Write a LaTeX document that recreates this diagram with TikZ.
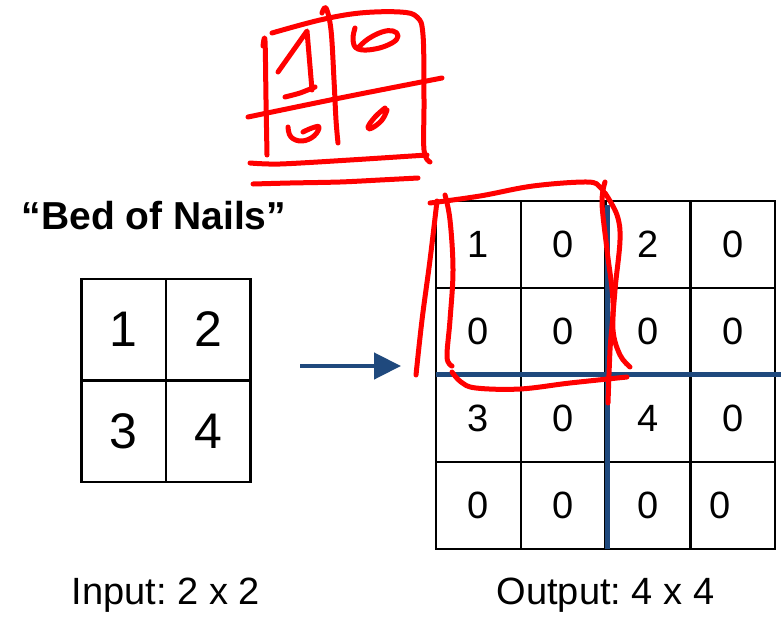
\documentclass[tikz,border=0pt]{standalone}
\usepackage{fontspec}
\setmainfont{Liberation Sans}
\usetikzlibrary{arrows.meta}
\frenchspacing
\definecolor{navy}{HTML}{1F497D}
\definecolor{ink}{HTML}{FF0000}
\begin{document}
\begin{tikzpicture}[x=1pt,y=-1pt,
  cellL/.style={draw=black,line width=2.5pt,minimum width=84.5pt,minimum height=101.5pt,inner sep=0pt,
    font=\fontsize{50}{58}\selectfont},
  cellR/.style={draw=black,line width=2.5pt,minimum width=84.75pt,minimum height=87pt,inner sep=0pt,
    font=\fontsize{38}{44}\selectfont},
  caption/.style={anchor=base,inner sep=0pt,font=\fontsize{38}{44}\selectfont},
  splitline/.style={draw=navy,line width=5pt},
  pointer/.style={draw=navy,line width=4.5pt,-{Triangle[length=27pt,width=26pt]}},
  pen/.style={draw=ink,line width=5pt,line cap=round,line join=round}]
\useasboundingbox (0,0) rectangle (783,618);

% title
\node[anchor=base,inner sep=0pt,font=\fontsize{39}{46}\selectfont\bfseries] (title) at (154,229) {“Bed of Nails”};

% 2 x 2 input
\node[cellL] (a11) at (123.5,329.5) {1};
\node[cellL] (a12) at (208,329.5) {2};
\node[cellL] (a21) at (123.5,431) {3};
\node[cellL] (a22) at (208,431) {4};

% 4 x 4 output
\node[cellR] (b11) at (478.5,244.5) {1};
\node[cellR] (b12) at (563.25,244.5) {0};
\node[cellR] (b13) at (648,244.5) {2};
\node[cellR] (b14) at (732.75,244.5) {0};
\node[cellR] (b21) at (478.5,331.5) {0};
\node[cellR] (b22) at (563.25,331.5) {0};
\node[cellR] (b23) at (648,331.5) {0};
\node[cellR] (b24) at (732.75,331.5) {0};
\node[cellR] (b31) at (478.5,418.5) {3};
\node[cellR] (b32) at (563.25,418.5) {0};
\node[cellR] (b33) at (648,418.5) {4};
\node[cellR] (b34) at (732.75,418.5) {0};
\node[cellR] (b41) at (478.5,505.5) {0};
\node[cellR] (b42) at (563.25,505.5) {0};
\node[cellR] (b43) at (648,505.5) {0};
\node[cellR] (b44) at (732.75,505.5) {};
\node[inner sep=0pt,font=\fontsize{38}{44}\selectfont] (v44) at (720,505.5) {0};

% quadrant separators
\coordinate (vtop) at (607.5,205);
\coordinate (vbot) at (607.5,549);
\coordinate (hl) at (436,374);
\coordinate (hr) at (781,374);
\draw[splitline] (vtop) -- (vbot);
\draw[splitline] (hl) -- (hr);

% arrow from input to output
\coordinate (arrA) at (300,366);
\coordinate (arrB) at (401,366);
\draw[pointer] (arrA) -- (arrB);

% captions
\node[caption] (inlab) at (166,604) {Input: 2 x 2};
\node[caption] (outlab) at (605.5,604) {Output: 4 x 4};

% hand-drawn 2 x 2 block sketch
\draw[pen] plot[smooth,tension=0.6] coordinates {(263,46) (265,41) (266,100) (267,155)};
\draw[pen] (278,72) -- (307,31) -- (312,90);
\draw[pen] plot[smooth] coordinates {(285,97) (300,93) (315,87)};
\draw[pen] plot[smooth,tension=0.6] coordinates {(322,13) (326,8) (331,30) (334,80) (336,120) (338,143)};
\draw[pen] plot[smooth,tension=0.6] coordinates {(272,33) (320,20) (360,13) (400,12) (417,17) (423,35) (424,100) (424,150) (430,162)};
\draw[pen] plot[smooth] coordinates {(248,117) (345,97) (442,78)};
\draw[pen] plot[smooth] coordinates {(250,163) (280,164) (350,160) (427,155)};
\draw[pen] plot[smooth] coordinates {(253,184) (290,183) (340,182) (380,180) (418,178)};
\draw[pen] plot[smooth,tension=0.7] coordinates {(355,28) (353,40) (358,49) (375,49) (392,43) (398,36) (393,31) (382,32) (368,39) (359,47)};
\draw[pen] plot[smooth,tension=0.7] coordinates {(288,127) (291,137) (302,141) (314,136) (319,127) (312,128) (303,132)};
\draw[pen] plot[smooth,tension=0.7] coordinates {(385,108) (375,117) (368,127) (372,128) (382,120) (387,110)};

% hand-drawn outline round the top-left block
\draw[pen] plot[smooth,tension=0.6] coordinates {(437,201) (430,260) (422,320) (416,375)};
\draw[pen] plot[smooth,tension=0.6] coordinates {(445,195) (450,220) (453,270) (450,320) (447,357) (452,366)};
\draw[pen] plot[smooth,tension=0.6] coordinates {(430,203) (480,196) (533,186) (587,182) (600,187) (605,195)};
\draw[pen] plot[smooth,tension=0.6] coordinates {(605,182) (602,203) (607,250) (613,303) (610,350) (608,403)};
\draw[pen] plot[smooth,tension=0.6] coordinates {(605,193) (617,215) (620,240) (615,290) (613,330) (620,355) (630,367)};
\draw[pen] plot[smooth,tension=0.6] coordinates {(452,372) (461,382) (476,388) (520,389) (570,383) (627,377)};
\end{tikzpicture}
\end{document}
